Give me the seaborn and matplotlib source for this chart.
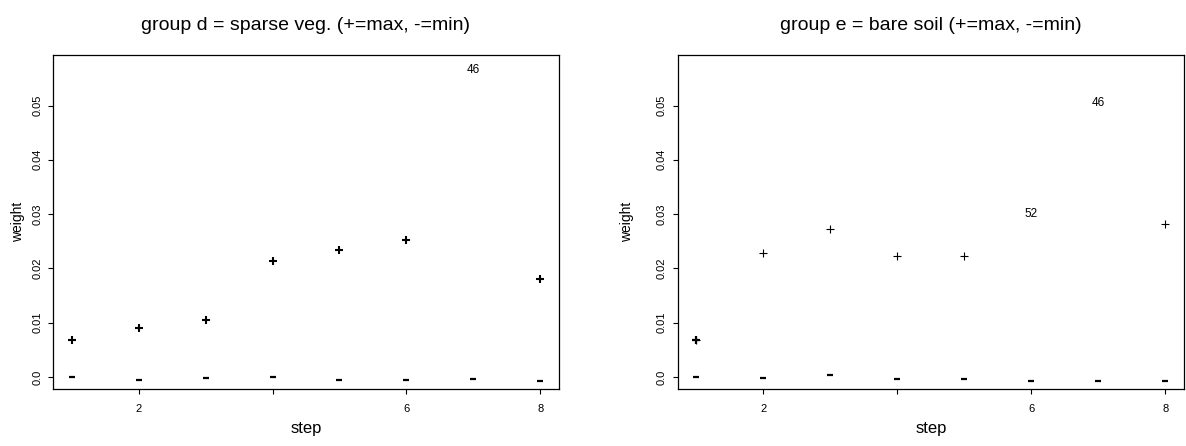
import matplotlib
matplotlib.use("Agg")
import matplotlib.pyplot as plt
import seaborn as sns
import pandas as pd

sns.set_theme(style="white")
plt.rcParams["font.family"] = ["Liberation Sans", "DejaVu Sans"]
plt.rcParams.update({"text.color": "black", "axes.labelcolor": "black",
                     "xtick.color": "black", "ytick.color": "black"})

# Per-step extreme weights for each land-cover group
steps = [1, 2, 3, 4, 5, 6, 7, 8]

d_max = [0.0069, 0.0091, 0.01055, 0.0214, 0.0234, 0.0252, 0.0565, 0.0180]
d_min = [0.0001, -0.0005, -0.0002, 0.0001, -0.0006, -0.0006, -0.0004, -0.0007]
d_max_labels = ["", "", "", "", "", "", "46", ""]

e_max = [0.0069, 0.0228, 0.0273, 0.0222, 0.0222, 0.0300, 0.0504, 0.0282]
e_min = [0.0001, -0.0001, 0.0003, -0.0004, -0.0004, -0.0007, -0.0007, -0.0007]
e_max_labels = ["", "", "", "", "", "52", "46", ""]

titles = ["group d = sparse veg. (+=max, -=min)",
          "group e = bare soil (+=max, -=min)"]
x_ticks = [2, 4, 6, 8]
x_ticklabels = ["2", "", "6", "8"]
y_ticks = [0.0, 0.01, 0.02, 0.03, 0.04, 0.05]
y_ticklabels = ["0.0", "0.01", "0.02", "0.03", "0.04", "0.05"]

fig = plt.figure(figsize=(11.86, 4.46), dpi=100)
ax_d = fig.add_axes([0.0447, 0.1278, 0.4266, 0.7489])
ax_e = fig.add_axes([0.5714, 0.1278, 0.4269, 0.7489])

panels = [
    (ax_d, d_max, d_min, d_max_labels, titles[0], -0.069, 1.5),
    (ax_e, e_max, e_min, e_max_labels, titles[1], -0.100, 0.8),
]

for ax, vmax, vmin, labels, title, ylab_x, plus_w in panels:
    df = pd.DataFrame({"step": steps, "max": vmax, "min": vmin, "label": labels})
    plain = df[df["label"] == ""]
    tagged = df[df["label"] != ""]

    # maxima as "+" glyphs, minima as "-" glyphs
    sns.scatterplot(data=plain, x="step", y="max", marker="+", s=28,
                    color="black", linewidth=plus_w, ax=ax, legend=False)
    sns.scatterplot(data=df, x="step", y="min", marker="_", s=22,
                    color="black", linewidth=1.6, ax=ax, legend=False)
    # first step overplotted several times -> heavier cross
    if plus_w < 1.2:
        sns.scatterplot(data=plain[plain["step"] == 1], x="step", y="max",
                        marker="+", s=28, color="black", linewidth=1.6,
                        ax=ax, legend=False)
    for _, row in tagged.iterrows():
        ax.text(row["step"], row["max"], row["label"], ha="center",
                va="center", fontsize=8.5, color="black")

    ax.set_xlim(0.72, 8.28)
    ax.set_ylim(-0.0022, 0.0593)
    ax.set_xticks(x_ticks)
    ax.set_xticklabels(x_ticklabels, fontsize=8)
    ax.set_yticks(y_ticks)
    ax.set_yticklabels(y_ticklabels, fontsize=8, rotation=90, va="center")
    ax.tick_params(axis="both", direction="out", length=3.6, width=0.8,
                   color="black", labelcolor="black", bottom=True, left=True)
    ax.tick_params(axis="x", pad=7)
    ax.tick_params(axis="y", pad=4)

    ax.set_xlabel("step", fontsize=12, color="black")
    ax.xaxis.set_label_coords(0.5, -0.117)
    ax.xaxis.label.set_va("center")
    ax.set_ylabel("weight", fontsize=10, color="black")
    ax.yaxis.set_label_coords(ylab_x, 0.5)
    ax.yaxis.label.set_va("center")
    ax.set_title(title, fontsize=14, pad=18, color="black")

    for sp in ax.spines.values():
        sp.set_visible(True)
        sp.set_color("black")
        sp.set_linewidth(0.9)

fig.savefig("out.png", dpi=100, facecolor="white")
